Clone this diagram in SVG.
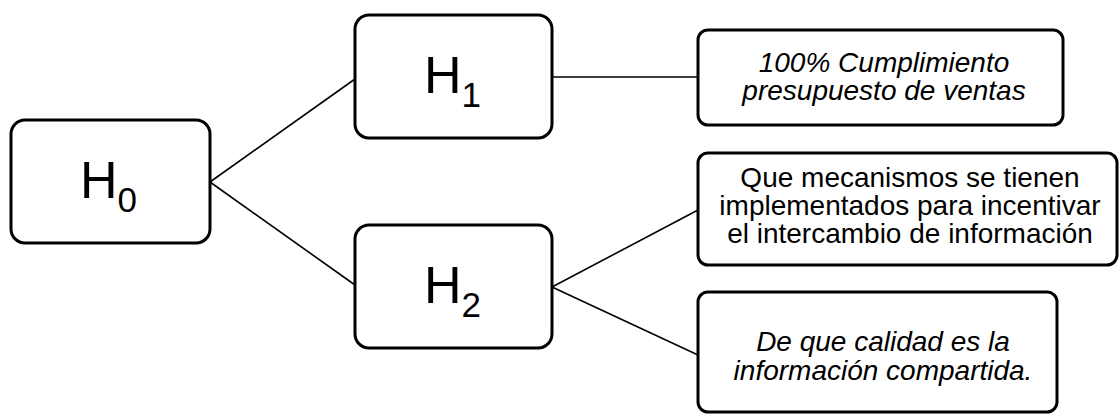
<svg xmlns="http://www.w3.org/2000/svg" width="1120" height="416" viewBox="0 0 1120 416">
<style>
.box{fill:#fff;stroke:#000;stroke-width:3}
.ln{stroke:#000;stroke-width:1.6;fill:none}
.h{font-family:"Liberation Sans",Arial,sans-serif;font-size:52px;fill:#000}
.sub{font-size:35px}
.t{font-family:"Liberation Sans",Arial,sans-serif;font-size:28px;fill:#000;text-anchor:middle}
.i{font-style:italic}
</style>
<rect width="1120" height="416" fill="#fff"/>
<g id="connectors">
<line class="ln" x1="210" y1="182" x2="355" y2="79"/>
<line class="ln" x1="210" y1="182" x2="355" y2="285"/>
<line class="ln" x1="552" y1="77" x2="698" y2="77"/>
<line class="ln" x1="552" y1="287" x2="698" y2="210"/>
<line class="ln" x1="552" y1="287" x2="698" y2="355"/>
</g>
<g id="H0">
<rect class="box" x="11" y="120" width="199" height="123" rx="14"/>
<text class="h" x="80" y="198">H<tspan class="sub" y="212">0</tspan></text>
</g>
<g id="H1">
<rect class="box" x="355" y="15" width="197" height="123" rx="14"/>
<text class="h" x="424" y="93">H<tspan class="sub" y="107">1</tspan></text>
</g>
<g id="H2">
<rect class="box" x="355" y="225" width="197" height="123" rx="14"/>
<text class="h" x="424" y="303">H<tspan class="sub" y="317">2</tspan></text>
</g>
<g id="T1">
<rect class="box" x="698" y="30" width="365" height="95" rx="10"/>
<text class="t i" x="884" y="72">100% Cumplimiento</text>
<text class="t i" x="884" y="100">presupuesto de ventas</text>
</g>
<g id="T2">
<rect class="box" x="698" y="153" width="419" height="112" rx="10"/>
<text class="t" x="910" y="187">Que mecanismos se tienen</text>
<text class="t" x="910" y="215">implementados para incentivar</text>
<text class="t" x="910" y="243">el intercambio de información</text>
</g>
<g id="T3">
<rect class="box" x="698" y="292" width="359" height="120" rx="10"/>
<text class="t i" x="883" y="351">De que calidad es la</text>
<text class="t i" x="883" y="380">información compartida.</text>
</g>
</svg>
